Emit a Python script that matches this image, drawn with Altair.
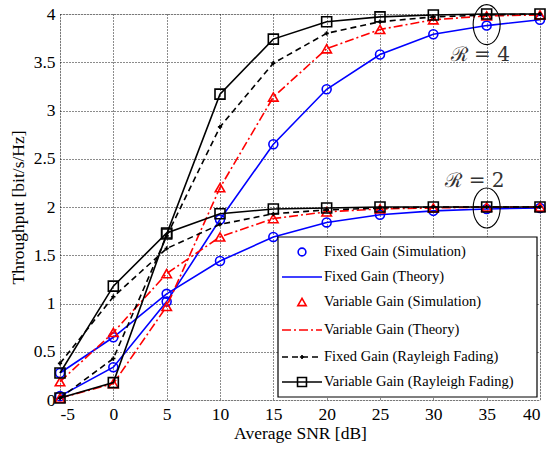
import altair as alt
import pandas as pd

# ---------------- data ----------------
snr = [-5, 0, 5, 10, 15, 20, 25, 30, 35, 40]
y_ticks = [0, 0.5, 1, 1.5, 2, 2.5, 3, 3.5, 4]

fixed_r4 = [0.04, 0.34, 1.02, 1.87, 2.65, 3.22, 3.58, 3.79, 3.88, 3.94]
fixed_r2 = [0.28, 0.65, 1.10, 1.44, 1.69, 1.84, 1.92, 1.96, 1.98, 1.99]
var_r4 = [0.02, 0.17, 0.97, 2.20, 3.14, 3.64, 3.84, 3.94, 3.98, 3.99]
var_r2 = [0.19, 0.70, 1.31, 1.69, 1.88, 1.95, 1.98, 1.99, 2.00, 2.00]
fray_r4 = [0.02, 0.43, 1.70, 2.83, 3.49, 3.80, 3.92, 3.97, 3.99, 4.00]
fray_r2 = [0.38, 1.07, 1.57, 1.82, 1.93, 1.97, 1.99, 2.00, 2.00, 2.00]
vray_r4 = [0.02, 0.18, 1.72, 3.17, 3.74, 3.92, 3.97, 3.99, 4.00, 4.00]
vray_r2 = [0.28, 1.18, 1.73, 1.93, 1.98, 1.99, 2.00, 2.00, 2.00, 2.00]

legend_labels = [
    "Fixed Gain (Simulation)",
    "Fixed Gain (Theory)",
    "Variable Gain (Simulation)",
    "Variable Gain (Theory)",
    "Fixed Gain (Rayleigh Fading)",
    "Variable Gain (Rayleigh Fading)",
]

annot_labels = ["ℛ = 4", "ℛ = 2"]
annot_snr = [34.4, 33.9]
annot_thr = [3.58, 2.27]
ellipse_snr = [35, 35]
ellipse_thr = [3.89, 1.99]

# ---------------- build table ----------------
rows = []
for kind, r, vals in [
    ("fixed", 4, fixed_r4), ("fixed", 2, fixed_r2),
    ("var", 4, var_r4), ("var", 2, var_r2),
    ("fray", 4, fray_r4), ("fray", 2, fray_r2),
    ("vray", 4, vray_r4), ("vray", 2, vray_r2),
]:
    for s, v in zip(snr, vals):
        rows.append({"kind": kind, "R": r, "snr": s, "thr": v})
df = pd.DataFrame(rows)

annot_df = pd.DataFrame({"snr": annot_snr, "thr": annot_thr, "label": annot_labels})
ell_df = pd.DataFrame({"snr": ellipse_snr, "thr": ellipse_thr})

W, H = 480, 386
FONT = "Liberation Serif"

x_enc = alt.X(
    "snr:Q",
    scale=alt.Scale(domain=[-5, 40], nice=False, zero=False),
    axis=alt.Axis(values=snr, title="Average SNR [dB]",
                  labelExpr="'' + datum.value",
                  grid=True, gridColor="black", gridDash=[1, 2], gridOpacity=0.9,
                  gridWidth=1, ticks=False, domain=False,
                  labelFontSize=17.5, titleFontSize=17.5, labelPadding=5,
                  titlePadding=2, labelColor="black", titleColor="black",
                  titleFontWeight="normal", labelFont=FONT, titleFont=FONT),
)
y_enc = alt.Y(
    "thr:Q",
    scale=alt.Scale(domain=[0, 4], nice=False),
    axis=alt.Axis(values=y_ticks, title="Throughput [bit/s/Hz]", format="~g",
                  grid=True, gridColor="black", gridDash=[1, 2], gridOpacity=0.9,
                  gridWidth=1, ticks=False, domain=False,
                  labelFontSize=17.5, titleFontSize=17.5, labelPadding=5,
                  titlePadding=6, labelColor="black", titleColor="black",
                  titleFontWeight="normal", labelFont=FONT, titleFont=FONT),
)

base = alt.Chart(df).encode(x=x_enc, y=y_enc)

BLUE, RED, BLACK = "#0000ff", "#ff0000", "#000000"
DASHDOT = [9, 3, 2, 3]
DASHED = [6, 4]

layers = [
    base.transform_filter(alt.datum.kind == "fixed").mark_line(color=BLUE, strokeWidth=1.6).encode(detail="R:N"),
    base.transform_filter(alt.datum.kind == "fixed").mark_point(shape="circle", color=BLUE, filled=False, size=80, strokeWidth=1.6, opacity=1),
    base.transform_filter(alt.datum.kind == "var").mark_line(color=RED, strokeWidth=1.6, strokeDash=DASHDOT).encode(detail="R:N"),
    base.transform_filter(alt.datum.kind == "var").mark_point(shape="triangle-up", color=RED, filled=False, size=90, strokeWidth=1.6, opacity=1),
    base.transform_filter(alt.datum.kind == "fray").mark_line(color=BLACK, strokeWidth=1.6, strokeDash=DASHED).encode(detail="R:N"),
    base.transform_filter(alt.datum.kind == "fray").mark_point(shape="cross", color=BLACK, filled=True, size=18, opacity=1),
    base.transform_filter(alt.datum.kind == "vray").mark_line(color=BLACK, strokeWidth=1.6).encode(detail="R:N"),
    base.transform_filter(alt.datum.kind == "vray").mark_point(shape="square", color=BLACK, filled=False, size=100, strokeWidth=1.6, opacity=1),
]

# annotations
layers.append(
    alt.Chart(annot_df).mark_text(font="DejaVu Serif", fontSize=20, color="#333333",
                                  align="center", baseline="middle").encode(
        x=alt.X("snr:Q"), y=alt.Y("thr:Q"), text="label:N")
)
ELLIPSE = "M -0.675 0 A 0.675 1 0 1 0 0.675 0 A 0.675 1 0 1 0 -0.675 0 Z"
layers.append(
    alt.Chart(ell_df).mark_point(shape=ELLIPSE, filled=False, color=BLACK, size=1600,
                                 strokeWidth=1.1, opacity=1).encode(x="snr:Q", y="thr:Q")
)

# legend (drawn in pixel space of the plot area)
dummy = pd.DataFrame({"a": [0]})
LX0, LX1, LY0, LY1 = 218, 477, 223, 383
layers.append(
    alt.Chart(dummy).mark_rect(fill="white", stroke="black", strokeWidth=1.2).encode(
        x=alt.value(LX0), x2=alt.value(LX1), y=alt.value(LY0), y2=alt.value(LY1))
)
row_y = [238, 263, 288, 316, 343, 368]
sx0, sx1, smid, tx = 222, 262, 242, 264
styles = [
    dict(line=None, shape="circle", color=BLUE, filled=False, size=60),
    dict(line=[], shape=None, color=BLUE),
    dict(line=None, shape="triangle-up", color=RED, filled=False, size=70),
    dict(line=DASHDOT, shape=None, color=RED),
    dict(line=DASHED, shape="cross", color=BLACK, filled=True, size=18),
    dict(line=[], shape="square", color=BLACK, filled=False, size=80),
]
for yy, lab, st in zip(row_y, legend_labels, styles):
    if st["line"] is not None:
        kw = dict(color=st["color"], strokeWidth=1.6)
        if st["line"]:
            kw["strokeDash"] = st["line"]
        layers.append(alt.Chart(dummy).mark_rule(**kw).encode(
            x=alt.value(sx0), x2=alt.value(sx1), y=alt.value(yy)))
    if st["shape"] is not None:
        layers.append(alt.Chart(dummy).mark_point(
            shape=st["shape"], color=st["color"], filled=st["filled"], size=st["size"],
            strokeWidth=1.6, opacity=1).encode(x=alt.value(smid), y=alt.value(yy)))
    layers.append(alt.Chart(dummy).mark_text(
        text=lab, font=FONT, fontSize=14.5, color="black", align="left", baseline="middle").encode(
        x=alt.value(tx), y=alt.value(yy)))

chart = alt.layer(*layers).properties(
    width=W, height=H,
    autosize=alt.AutoSizeParams(type="none"),
    padding={"left": 60, "top": 14, "right": 9, "bottom": 51},
    background="white",
).configure_view(stroke="black", strokeWidth=1.3).configure(font=FONT)

chart.save("out.html", embed_options={"renderer": "svg", "actions": False})
